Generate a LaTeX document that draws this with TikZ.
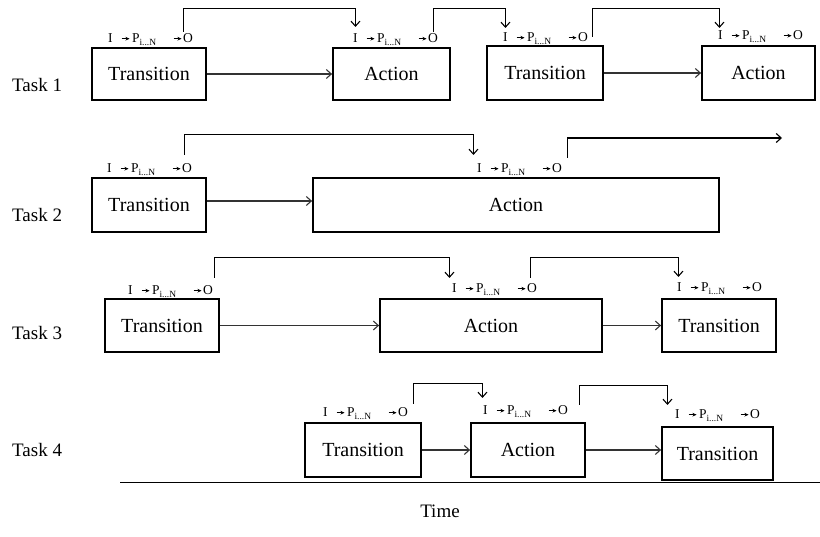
\documentclass[tikz,border=0pt]{standalone}
\usepackage{fontspec}
\setmainfont{Liberation Serif}
\usetikzlibrary{arrows.meta}

% small filled arrow used inside the I -> P -> O labels
\newcommand\sarr{\tikz[x=1pt,y=1pt,baseline=0pt]\draw[line width=0.6pt,-{Stealth[length=4pt,width=3.6pt]}] (0,4.3) -- (8,4.3);}

% I -> P_{i...N} -> O label: #1 name prefix, #2 x of "I", #3 baseline y
\newcommand\iolab[3]{%
  \node[lab,anchor=base west] (#1i) at (#2,#3) {I};
  \node[lab,anchor=base west] (#1p) at (#2+13,#3) {\sarr\,P\textsubscript{i...N}};
  \node[lab,anchor=base west] (#1o) at (#2+75,#3) {O};
  \node[lab,anchor=base east] (#1a) at ([xshift=-1pt]#1o.base west) {\sarr};
}

\tikzset{
  box/.style={draw, line width=1.8pt, inner sep=0pt, font=\fontsize{20}{24}\selectfont},
  lab/.style={inner sep=0pt, font=\fontsize{13.5}{15}\selectfont},
  tasklab/.style={anchor=west, inner sep=0pt, font=\fontsize{19}{22}\selectfont},
  flow/.style={draw=black!80, line width=1.1pt, -{Straight Barb[length=5pt,width=9pt]}},
  fb/.style={line width=1.1pt, -{Straight Barb[length=5pt,width=9pt]}},
}

\begin{document}
\begin{tikzpicture}[x=1pt,y=-1pt]
\useasboundingbox (0,0) rectangle (820,537);

% task labels
\node[tasklab] (task1) at (12,85)  {Task 1};
\node[tasklab] (task2) at (12,215) {Task 2};
\node[tasklab] (task3) at (12,333) {Task 3};
\node[tasklab] (task4) at (12,450) {Task 4};

% ---- Task 1
\node[box, minimum width=114, minimum height=52] (t1) at (149,74)   {Transition};
\node[box, minimum width=117, minimum height=52] (a1) at (391.5,74) {Action};
\node[box, minimum width=116, minimum height=54] (t2) at (545,73)   {Transition};
\node[box, minimum width=113, minimum height=54] (a2) at (758.5,73) {Action};
\iolab{lt1}{108}{43}
\iolab{la1}{353}{43}
\iolab{lt2}{503}{42}
\iolab{la2}{718}{40}
\draw[flow] (t1) -- (a1);
\draw[flow] (t2) -- (a2);
\draw[fb] ([xshift=-5pt,yshift=2pt]lt1o.north) -- ++(0,-23) -| ([yshift=7pt]la1i.north);
\draw[fb] ([yshift=2pt]la1o.north) -- ++(0,-23) -| ([yshift=5pt]lt2i.north);
\draw[fb] ([xshift=9pt,yshift=-4pt]lt2o.north) -- ++(0,-28) -| ([xshift=-1pt,yshift=3pt]la2i.north);

% ---- Task 2
\node[box, minimum width=114, minimum height=54] (t3) at (149,205) {Transition};
\node[box, minimum width=406, minimum height=54] (a3) at (516,205) {Action};
\iolab{lt3}{107}{173}
\iolab{la3}{477}{173}
\coordinate (a3out) at (782,138);
\draw[flow] ([yshift=4pt]t3.east) -- ([yshift=4pt]a3.west);
\draw[fb] ([xshift=-3pt,yshift=9pt]lt3o.north) -- ++(0,-20) -| ([xshift=-6pt,yshift=9pt]la3i.north);
\draw[fb] ([xshift=10pt,yshift=6pt]la3o.north) |- (a3out);

% ---- Task 3
\node[box, minimum width=114, minimum height=53] (t4) at (162,325.5) {Transition};
\node[box, minimum width=222, minimum height=53] (a4) at (491,325.5) {Action};
\node[box, minimum width=114, minimum height=53] (t5) at (719,325.5) {Transition};
\iolab{lt4}{128}{295}
\iolab{la4}{452}{293}
\iolab{lt5}{677}{292}
\draw[flow] (t4) -- (a4);
\draw[flow] (a4) -- (t5);
\draw[fb] ([xshift=6pt,yshift=8pt]lt4o.north) -- ++(0,-20) -| ([xshift=-5pt,yshift=6pt]la4i.north);
\draw[fb] ([xshift=-2pt,yshift=6pt]la4o.north) -- ++(0,-20) -| ([xshift=-1pt,yshift=6pt]lt5i.north);

% ---- Task 4
\node[box, minimum width=116, minimum height=54] (t6) at (363,450)     {Transition};
\node[box, minimum width=114, minimum height=54] (a5) at (528,450)     {Action};
\node[box, minimum width=111, minimum height=53] (t7) at (717.5,453.5) {Transition};
\iolab{lt6}{323}{417}
\iolab{la5}{483}{415}
\iolab{lt7}{675}{419}
\draw[flow] (t6) -- (a5);
\draw[flow] (a5.east) -- (a5.east -| t7.west);
\draw[fb] ([xshift=10pt,yshift=4pt]lt6o.north) -- ++(0,-20) -| ([xshift=-3pt,yshift=8pt]la5i.north);
\draw[fb] ([xshift=16pt,yshift=1pt]la5o.north) -- ++(0,-19) -| ([xshift=-10pt,yshift=5pt]lt7i.north);

% ---- time axis
\coordinate (axl) at (120,482);
\coordinate (axr) at (820,482);
\draw[line width=1pt] (axl) -- (axr);
\node[inner sep=0pt, font=\fontsize{19}{22}\selectfont] (time) at (440,511) {Time};
\end{tikzpicture}
\end{document}
